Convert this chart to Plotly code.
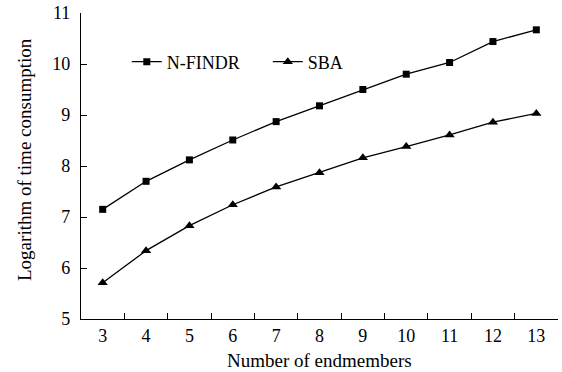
import plotly.graph_objects as go

# Number of endmembers (categories on the x axis)
endmembers = ["3", "4", "5", "6", "7", "8", "9", "10", "11", "12", "13"]

# Logarithm of time consumption for each algorithm
nfindr_log_time = [7.15, 7.70, 8.12, 8.51, 8.87, 9.18, 9.50, 9.80, 10.03, 10.44, 10.67]
sba_log_time = [5.71, 6.34, 6.83, 7.24, 7.59, 7.87, 8.16, 8.38, 8.61, 8.86, 9.03]

y_ticks = [5, 6, 7, 8, 9, 10, 11]

FONT = "Liberation Serif, Times New Roman, serif"

fig = go.Figure()
fig.add_trace(go.Scatter(
    x=endmembers, y=nfindr_log_time, name="N-FINDR",
    mode="lines+markers",
    line=dict(color="black", width=1.3),
    marker=dict(symbol="square", size=7, color="black"),
))
fig.add_trace(go.Scatter(
    x=endmembers, y=sba_log_time, name="SBA",
    mode="lines+markers",
    line=dict(color="black", width=1.3),
    marker=dict(symbol="triangle-up", size=9, color="black"),
))

fig.update_layout(
    width=562, height=372,
    margin=dict(l=81, r=4, t=13, b=53),
    paper_bgcolor="white", plot_bgcolor="white",
    font=dict(family=FONT, size=18, color="black"),
    showlegend=True,
    legend=dict(
        orientation="h", x=0.096, y=0.84, xanchor="left", yanchor="middle",
        bgcolor="rgba(0,0,0,0)", font=dict(family=FONT, size=18),
        entrywidth=96, itemwidth=30,
    ),
    xaxis=dict(
        type="category", tickson="boundaries",
        showline=True, linecolor="black", linewidth=1.3,
        ticks="inside", ticklen=6, tickcolor="black", tickwidth=1.3,
        showgrid=False, zeroline=False,
        tickfont=dict(family=FONT, size=18),
        range=[-0.5, len(endmembers) - 0.5],
    ),
    yaxis=dict(
        range=[5, 11], tickvals=y_ticks,
        showline=True, linecolor="black", linewidth=1.3,
        ticks="inside", ticklen=6, tickcolor="black", tickwidth=1.3,
        showgrid=False, zeroline=False,
        tickfont=dict(family=FONT, size=18),
        ticklabelstandoff=6,
    ),
    annotations=[
        dict(text="Number of endmembers", xref="paper", yref="paper",
             x=0.5, y=-0.135, xanchor="center", yanchor="middle",
             showarrow=False, font=dict(family=FONT, size=19)),
        dict(text="Logarithm of time consumption", xref="paper", yref="paper",
             x=-0.118, y=0.522, xanchor="center", yanchor="middle",
             textangle=-90, showarrow=False, font=dict(family=FONT, size=19)),
    ],
)

fig.write_html("out.html")
